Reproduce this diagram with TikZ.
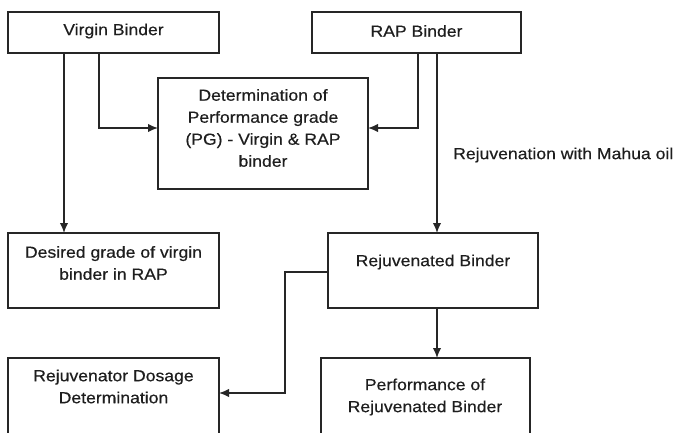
\documentclass[tikz,border=0pt]{standalone}
\usepackage{fontspec}
\setmainfont{Liberation Sans}[FakeStretch=1.1,FakeBold=0.4]
\usetikzlibrary{arrows.meta}
\definecolor{ln}{HTML}{262626}
\definecolor{tx}{HTML}{1E1E1E}
\tikzset{
  boxs/.style={draw=ln, line width=1.5pt, fill=white},
  txt/.style={text=tx, font=\fontsize{16}{22}\selectfont, align=center, inner sep=0pt},
  conn/.style={draw=ln, line width=1.5pt, -{Latex[length=10pt,width=8.5pt]}},
  wire/.style={draw=ln, line width=1.5pt}
}
\begin{document}
\begin{tikzpicture}[x=1pt,y=-1pt]
\useasboundingbox (0,0) rectangle (676,432);
% boxes
\draw[boxs] (8,12) rectangle (219,53);
\coordinate (vbS1) at (64,53); \coordinate (vbS2) at (99,53);
\draw[boxs] (312,12) rectangle (521,53);
\coordinate (rbS1) at (418,53); \coordinate (rbS2) at (437,53);
\draw[boxs] (158,78) rectangle (368,189);
\coordinate (dW) at (158,128); \coordinate (dE) at (368,128);
\draw[boxs] (8,233) rectangle (219,308);
\coordinate (dgN) at (64,233);
\draw[boxs] (328,233) rectangle (538,308);
\coordinate (rjN) at (437,233); \coordinate (rjS) at (437,308); \coordinate (rjW) at (328,272);
\draw[boxs] (8,358) rectangle (219,450);
\coordinate (rdE) at (219,393);
\draw[boxs] (321,358) rectangle (530,450);
\coordinate (pfN) at (437,358);
% texts
\node[txt] (vb) at (113.5,31) {Virgin Binder};
\node[txt] (rb) at (416.5,31) {RAP Binder};
\node[txt] (det) at (263,128) {Determination of\\Performance grade\\(PG) - Virgin \& RAP\\binder};
\node[txt] (dg) at (113.5,263) {Desired grade of virgin\\binder in RAP};
\node[txt] (rj) at (433,262) {Rejuvenated Binder};
\node[txt] (rd) at (113.5,386.5) {Rejuvenator Dosage\\Determination};
\node[txt] (pf) at (425,397) {Performance of\\Rejuvenated Binder};
\node[txt, anchor=west] (lab) at (453,155) {Rejuvenation with Mahua oil};
% connectors
\draw[conn] (vbS1) -- (dgN);
\draw[conn] (vbS2) |- (dW);
\draw[conn] (rbS1) |- (dE);
\draw[conn] (rbS2) -- (rjN);
\draw[conn] (rjS) -- (pfN);
\draw[conn] (rjW) -- (285,272) |- (rdE);
\end{tikzpicture}
\end{document}
